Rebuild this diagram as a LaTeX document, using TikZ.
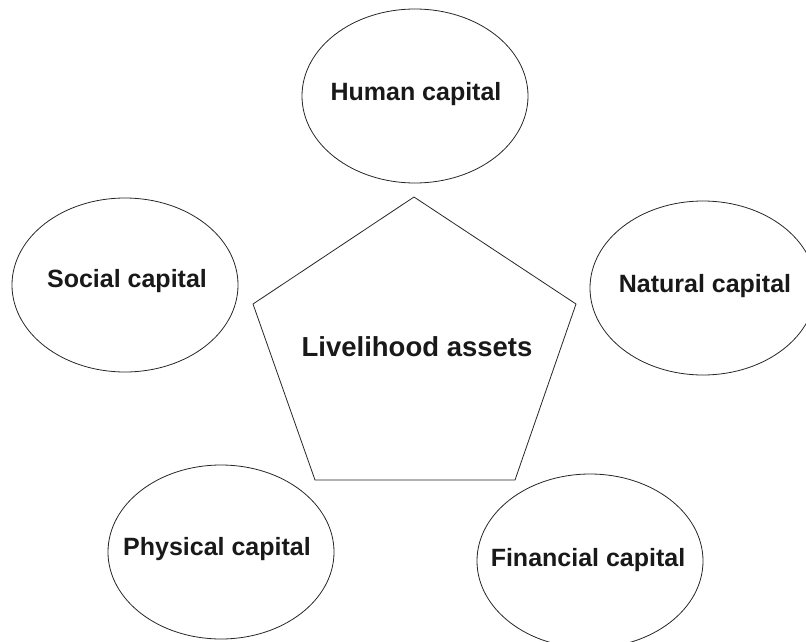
\documentclass[tikz,border=0pt]{standalone}
\usepackage{fontspec}
\setmainfont{Liberation Sans}
\usetikzlibrary{shapes.geometric}
\begin{document}
\begin{tikzpicture}[x=1pt,y=-1pt,
  capital/.style={draw=black!85,line width=0.8pt,ellipse,inner sep=0pt,
    minimum width=226pt,minimum height=174pt},
  caplabel/.style={anchor=base,inner sep=0pt,text=black!90,
    font=\fontsize{25}{25}\selectfont\bfseries},
  corelabel/.style={anchor=base,inner sep=0pt,text=black!90,
    font=\fontsize{27.5}{27.5}\selectfont\bfseries},
  edge/.style={draw=black!85,line width=0.8pt,line join=miter}]
\useasboundingbox (0,0) rectangle (806,642);

% the five capitals
\node[capital] (human)     at (415,96)  {};
\node[capital] (social)    at (125,285) {};
\node[capital] (natural)   at (703,288) {};
\node[capital] (physical)  at (221,552) {};
\node[capital] (financial) at (590,561) {};

\node[caplabel] (humanlbl)     at (416,100) {Human capital};
\node[caplabel] (sociallbl)    at (127,287) {Social capital};
\node[caplabel] (naturallbl)   at (705,292) {Natural capital};
\node[caplabel] (physicallbl)  at (217,555) {Physical capital};
\node[caplabel] (financiallbl) at (588,566) {Financial capital};

% central pentagon
\coordinate (ptop) at (414,197);
\coordinate (pright) at (576,304);
\coordinate (pbr) at (515,480);
\coordinate (pbl) at (315,480);
\coordinate (pleft) at (253,304);
\draw[edge] (ptop) -- (pright) -- (pbr) -- (pbl) -- (pleft) -- cycle;
\node[corelabel] (core) at (417,356) {Livelihood assets};
\end{tikzpicture}
\end{document}
